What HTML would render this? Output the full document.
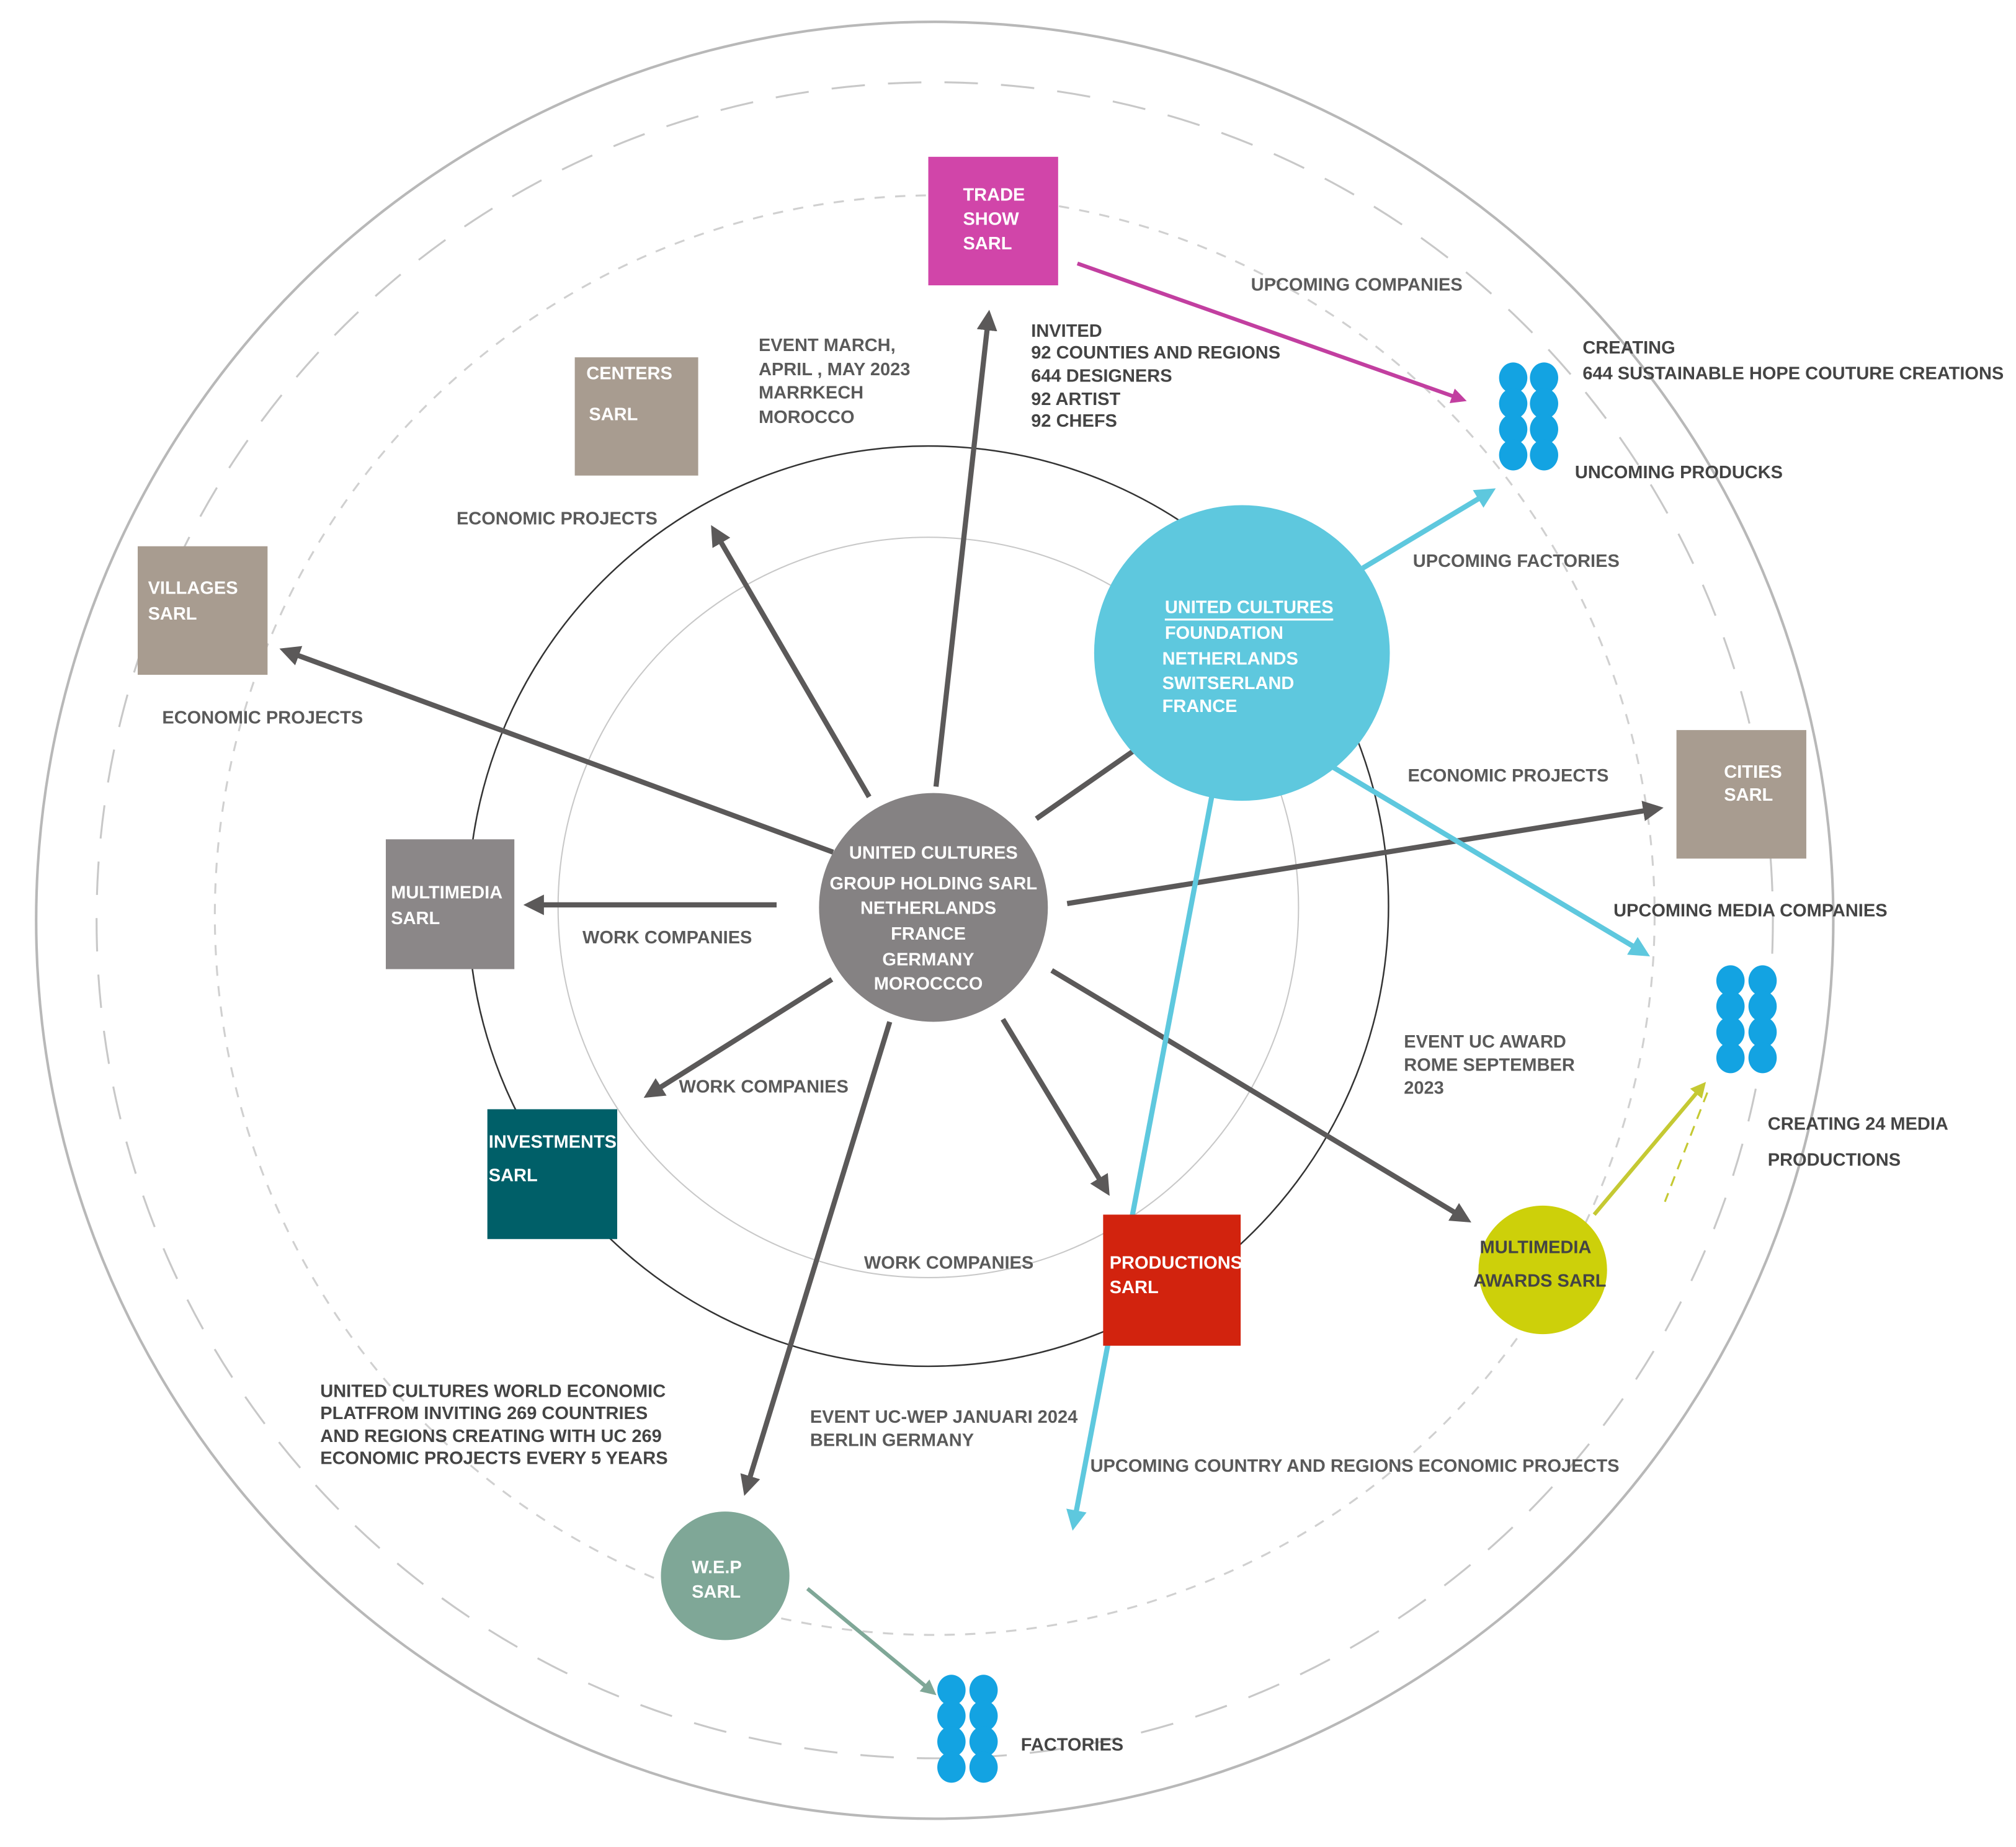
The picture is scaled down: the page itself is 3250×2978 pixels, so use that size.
<!DOCTYPE html>
<html><head><meta charset="utf-8"><style>
html,body{margin:0;padding:0;background:#fff;}
svg{display:block;}
text{font-family:"Liberation Sans Narrow","Liberation Sans",sans-serif;font-weight:bold;font-size:14px;fill:#5a5a5a;}
.w{fill:#fff;}
.d{fill:#444;}
</style></head><body>
<svg width="3250" height="2978" viewBox="0 0 1568 1437" xmlns="http://www.w3.org/2000/svg">
<defs>
<marker id="ag" markerWidth="4" markerHeight="4" refX="3" refY="2" orient="auto"><path d="M0,0 L4,2 L0,4 Z" fill="#5b5959"/></marker>
<marker id="at" markerWidth="4" markerHeight="4" refX="3" refY="2" orient="auto"><path d="M0,0 L4,2 L0,4 Z" fill="#5ec8de"/></marker>
<marker id="am" markerWidth="4" markerHeight="4" refX="3" refY="2" orient="auto"><path d="M0,0 L4,2 L0,4 Z" fill="#c23fa0"/></marker>
<marker id="ay" markerWidth="4" markerHeight="4" refX="3" refY="2" orient="auto"><path d="M0,0 L4,2 L0,4 Z" fill="#c5c933"/></marker>
<marker id="aw" markerWidth="4" markerHeight="4" refX="3" refY="2" orient="auto"><path d="M0,0 L4,2 L0,4 Z" fill="#7fa797"/></marker>
</defs>
<rect width="1568" height="1437" fill="#fff"/>
<circle cx="727" cy="716" r="699" fill="none" stroke="#b8b8b8" stroke-width="2"/>
<circle cx="727" cy="716" r="652" fill="none" stroke="#c8c8c8" stroke-width="1.5" stroke-dasharray="26 18"/>
<circle cx="727" cy="712" r="560" fill="none" stroke="#d0d0d0" stroke-width="1.5" stroke-dasharray="8 8"/>
<circle cx="722" cy="705" r="358" fill="none" stroke="#333" stroke-width="1.2"/>
<circle cx="722" cy="706" r="288" fill="none" stroke="#c8c8c8" stroke-width="1"/>

<g stroke="#5b5959" stroke-width="4" fill="none">
<line x1="728" y1="612" x2="769" y2="245" marker-end="url(#ag)"/>
<line x1="676" y1="620" x2="555" y2="412" marker-end="url(#ag)"/>
<line x1="648" y1="663" x2="221" y2="506" marker-end="url(#ag)"/>
<line x1="604" y1="704" x2="411" y2="704" marker-end="url(#ag)"/>
<line x1="647" y1="762" x2="504" y2="852" marker-end="url(#ag)"/>
<line x1="692" y1="795" x2="580" y2="1160" marker-end="url(#ag)"/>
<line x1="780" y1="793" x2="861" y2="927" marker-end="url(#ag)"/>
<line x1="818" y1="755" x2="1141" y2="949" marker-end="url(#ag)"/>
<line x1="830" y1="703" x2="1290" y2="629" marker-end="url(#ag)"/>
<line x1="806" y1="637" x2="882" y2="584"/>
</g>
<g stroke="#5ec8de" stroke-width="4" fill="none">
<line x1="1060" y1="442" x2="1160" y2="382" marker-end="url(#at)"/>
<line x1="1037" y1="597" x2="1280" y2="742" marker-end="url(#at)"/>
<line x1="943" y1="617" x2="835" y2="1187" marker-end="url(#at)"/>
</g>
<line x1="838" y1="205" x2="1138" y2="311" stroke="#c23fa0" stroke-width="3" marker-end="url(#am)"/>
<line x1="1240" y1="945" x2="1325" y2="844" stroke="#c5c933" stroke-width="3" marker-end="url(#ay)"/>
<line x1="1328" y1="850" x2="1295" y2="935" stroke="#c5c933" stroke-width="1.5" stroke-dasharray="8 6"/>
<line x1="628" y1="1236" x2="726" y2="1317" stroke="#7fa797" stroke-width="3" marker-end="url(#aw)"/>

<rect x="722" y="122" width="101" height="100" fill="#d145a9"/>
<rect x="447" y="278" width="96" height="92" fill="#a89c90"/>
<rect x="107" y="425" width="101" height="100" fill="#a89c90"/>
<rect x="300" y="653" width="100" height="101" fill="#8b8788"/>
<rect x="379" y="863" width="101" height="101" fill="#005f68"/>
<rect x="858" y="945" width="107" height="102" fill="#d2230e"/>
<rect x="1304" y="568" width="101" height="100" fill="#a89c90"/>
<circle cx="726" cy="706" r="89" fill="#858283"/>
<circle cx="966" cy="508" r="115" fill="#5ec8de"/>
<circle cx="1200" cy="988" r="50" fill="#cdd00a"/>
<circle cx="564" cy="1226" r="50" fill="#7fa797"/>

<g fill="#13a3e2">
<ellipse cx="1177" cy="294" rx="11" ry="12"/><ellipse cx="1201" cy="294" rx="11" ry="12"/>
<ellipse cx="1177" cy="314" rx="11" ry="12"/><ellipse cx="1201" cy="314" rx="11" ry="12"/>
<ellipse cx="1177" cy="334" rx="11" ry="12"/><ellipse cx="1201" cy="334" rx="11" ry="12"/>
<ellipse cx="1177" cy="354" rx="11" ry="12"/><ellipse cx="1201" cy="354" rx="11" ry="12"/>
<ellipse cx="1346" cy="763" rx="11" ry="12"/><ellipse cx="1371" cy="763" rx="11" ry="12"/>
<ellipse cx="1346" cy="783" rx="11" ry="12"/><ellipse cx="1371" cy="783" rx="11" ry="12"/>
<ellipse cx="1346" cy="803" rx="11" ry="12"/><ellipse cx="1371" cy="803" rx="11" ry="12"/>
<ellipse cx="1346" cy="823" rx="11" ry="12"/><ellipse cx="1371" cy="823" rx="11" ry="12"/>
<ellipse cx="740" cy="1315" rx="11" ry="12"/><ellipse cx="765" cy="1315" rx="11" ry="12"/>
<ellipse cx="740" cy="1335" rx="11" ry="12"/><ellipse cx="765" cy="1335" rx="11" ry="12"/>
<ellipse cx="740" cy="1355" rx="11" ry="12"/><ellipse cx="765" cy="1355" rx="11" ry="12"/>
<ellipse cx="740" cy="1375" rx="11" ry="12"/><ellipse cx="765" cy="1375" rx="11" ry="12"/>
</g>

<text class="w" x="749" y="156">TRADE</text>
<text class="w" x="749" y="175">SHOW</text>
<text class="w" x="749" y="194">SARL</text>
<text class="w" x="456" y="295">CENTERS</text>
<text class="w" x="458" y="327">SARL</text>
<text class="w" x="115" y="462">VILLAGES</text>
<text class="w" x="115" y="482">SARL</text>
<text class="w" x="304" y="699">MULTIMEDIA</text>
<text class="w" x="304" y="719">SARL</text>
<text class="w" x="380" y="893">INVESTMENTS</text>
<text class="w" x="380" y="919">SARL</text>
<text class="w" x="863" y="987">PRODUCTIONS</text>
<text class="w" x="863" y="1006">SARL</text>
<text class="w" x="1341" y="605">CITIES</text>
<text class="w" x="1341" y="623">SARL</text>
<g text-anchor="middle">
<text class="w" x="726" y="668">UNITED CULTURES</text>
<text class="w" x="726" y="692">GROUP HOLDING SARL</text>
<text class="w" x="722" y="711">NETHERLANDS</text>
<text class="w" x="722" y="731">FRANCE</text>
<text class="w" x="722" y="751">GERMANY</text>
<text class="w" x="722" y="770">MOROCCCO</text>
</g>
<text class="w" x="906" y="477">UNITED CULTURES</text>
<line x1="906" y1="482" x2="1037" y2="482" stroke="#fff" stroke-width="1.5"/>
<text class="w" x="906" y="497">FOUNDATION</text>
<text class="w" x="904" y="517">NETHERLANDS</text>
<text class="w" x="904" y="536">SWITSERLAND</text>
<text class="w" x="904" y="554">FRANCE</text>
<text class="d" x="1151" y="975">MULTIMEDIA</text>
<text class="d" x="1146" y="1001">AWARDS SARL</text>
<text class="w" x="538" y="1224">W.E.P</text>
<text class="w" x="538" y="1243">SARL</text>

<text x="973" y="226">UPCOMING COMPANIES</text>
<text class="d" x="802" y="262">INVITED</text>
<text class="d" x="802" y="279">92 COUNTIES AND REGIONS</text>
<text class="d" x="802" y="297">644 DESIGNERS</text>
<text class="d" x="802" y="315">92 ARTIST</text>
<text class="d" x="802" y="332">92 CHEFS</text>
<text x="590" y="273">EVENT MARCH,</text>
<text x="590" y="292">APRIL , MAY 2023</text>
<text x="590" y="310">MARRKECH</text>
<text x="590" y="329">MOROCCO</text>
<text class="d" x="1231" y="275">CREATING</text>
<text class="d" x="1231" y="295">644 SUSTAINABLE HOPE COUTURE CREATIONS</text>
<text class="d" x="1225" y="372">UNCOMING PRODUCKS</text>
<text x="355" y="408">ECONOMIC PROJECTS</text>
<text x="1099" y="441">UPCOMING FACTORIES</text>
<text x="126" y="563">ECONOMIC PROJECTS</text>
<text x="1095" y="608">ECONOMIC PROJECTS</text>
<text class="d" x="1255" y="713">UPCOMING MEDIA COMPANIES</text>
<text x="453" y="734">WORK COMPANIES</text>
<text x="1092" y="815">EVENT UC AWARD</text>
<text x="1092" y="833">ROME SEPTEMBER</text>
<text x="1092" y="851">2023</text>
<text x="528" y="850">WORK COMPANIES</text>
<text class="d" x="1375" y="879">CREATING 24 MEDIA</text>
<text class="d" x="1375" y="907">PRODUCTIONS</text>
<text x="672" y="987">WORK COMPANIES</text>
<text class="d" x="249" y="1087">UNITED CULTURES WORLD ECONOMIC</text>
<text class="d" x="249" y="1104">PLATFROM INVITING 269 COUNTRIES</text>
<text class="d" x="249" y="1122">AND REGIONS CREATING WITH UC 269</text>
<text class="d" x="249" y="1139">ECONOMIC PROJECTS EVERY 5 YEARS</text>
<text x="630" y="1107">EVENT UC-WEP JANUARI 2024</text>
<text x="630" y="1125">BERLIN GERMANY</text>
<text x="848" y="1145">UPCOMING COUNTRY AND REGIONS ECONOMIC PROJECTS</text>
<text class="d" x="794" y="1362">FACTORIES</text>
</svg>
</body></html>
